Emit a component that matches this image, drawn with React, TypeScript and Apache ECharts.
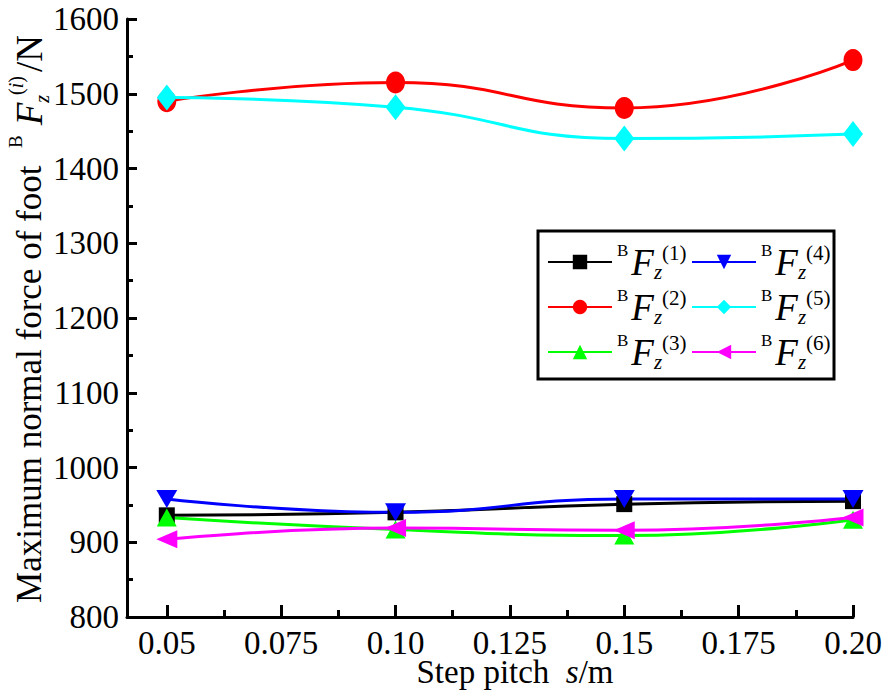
import React, { useEffect, useRef } from 'react';
import * as echarts from 'echarts';

const xValues = [0.05, 0.1, 0.15, 0.2];
const f1 = [936, 940, 951, 955];
const f2 = [1490, 1515, 1481, 1545];
const f3 = [933, 917, 909, 930];
const f4 = [958, 940, 958, 958];
const f5 = [1495, 1482, 1440, 1446];
const f6 = [904, 919, 916, 933];

const seriesNames = ['F1', 'F2', 'F3', 'F4', 'F5', 'F6'];
const seriesIndexLabels = ['1', '2', '3', '4', '5', '6'];
const seriesValues = [f1, f2, f3, f4, f5, f6];
const seriesColors = ['#000000', '#ff0000', '#00ff00', '#0000ff', '#00ffff', '#ff00ff'];
const seriesSymbols = ['rect', 'circle', 'triangle', 'triangle', 'diamond', 'triangle'];
const seriesRotate = [0, 0, 0, 180, 0, 90];
const seriesSymbolSize: any[] = [[16, 16], [19, 22], [20, 18], [21, 18], [20, 26], [18, 21]];

const xTickValues = [0.05, 0.075, 0.1, 0.125, 0.15, 0.175, 0.2];
const xTickLabels = ['0.05', '0.075', '0.10', '0.125', '0.15', '0.175', '0.20'];
const xMinorTicks = [0.0625, 0.0875, 0.1125, 0.1375, 0.1625, 0.1875];
const yMin = 800;
const yMax = 1600;
const yInterval = 100;

const FONT = "'Liberation Serif', 'Times New Roman', Times, serif";

export default function App() {
  const ref = useRef<HTMLDivElement>(null);
  useEffect(() => {
    if (!ref.current) return;
    const chart = echarts.init(ref.current, undefined, { renderer: 'svg' });

    const legendRich = {
      b: { fontSize: 17, fontFamily: FONT, verticalAlign: 'top', lineHeight: 22, color: '#000', padding: [0, 3, 0, 0] },
      F: { fontSize: 37, fontFamily: FONT, fontStyle: 'italic', lineHeight: 40, color: '#000' },
      z: { fontSize: 21, fontFamily: FONT, fontStyle: 'italic', verticalAlign: 'bottom', lineHeight: 18, color: '#000' },
      s: { fontSize: 21, fontFamily: FONT, verticalAlign: 'top', lineHeight: 20, color: '#000' },
    };
    const legendFormatter = (name: string) => {
      const i = seriesNames.indexOf(name);
      return `{b|B}{F|F}{z|z}{s|(${seriesIndexLabels[i]})}`;
    };

    const yTitleRich = {
      m: { fontSize: 35, fontFamily: FONT, lineHeight: 46, color: '#000' },
      b: { fontSize: 19, fontFamily: FONT, verticalAlign: 'top', lineHeight: 26, color: '#000', padding: [0, 10, 0, 0] },
      F: { fontSize: 37, fontFamily: FONT, fontStyle: 'italic', lineHeight: 46, color: '#000' },
      z: { fontSize: 20, fontFamily: FONT, fontStyle: 'italic', verticalAlign: 'bottom', lineHeight: 20, color: '#000' },
      s: { fontSize: 20, fontFamily: FONT, verticalAlign: 'top', lineHeight: 20, color: '#000' },
      si: { fontSize: 20, fontFamily: FONT, fontStyle: 'italic', verticalAlign: 'top', lineHeight: 20, color: '#000' },
      n: { fontSize: 37, fontFamily: FONT, lineHeight: 46, color: '#000', padding: [0, 0, 0, 4] },
    };

    const option: any = {
      animation: false,
      backgroundColor: '#ffffff',
      textStyle: { fontFamily: FONT, color: '#000' },
      grid: { left: 127, right: 33, top: 19, bottom: 78, containLabel: false },
      xAxis: [
        {
          type: 'value',
          min: 0.0413,
          max: 0.2,
          position: 'bottom',
          axisLine: { show: true, lineStyle: { color: '#000', width: 3 } },
          axisTick: { show: true, inside: true, length: 12, customValues: xTickValues, lineStyle: { color: '#000', width: 3 } },
          axisLabel: {
            show: true,
            customValues: xTickValues,
            margin: 9,
            fontSize: 33,
            fontFamily: FONT,
            color: '#000',
            formatter: (v: number) => {
              let best = 0;
              xTickValues.forEach((t, i) => { if (Math.abs(t - v) < Math.abs(xTickValues[best] - v)) best = i; });
              return xTickLabels[best];
            },
          },
          splitLine: { show: false },
        },
        {
          type: 'value',
          min: 0.0413,
          max: 0.2,
          position: 'bottom',
          axisLine: { show: false },
          axisTick: { show: true, inside: true, length: 7, customValues: xMinorTicks, lineStyle: { color: '#000', width: 3 } },
          axisLabel: { show: false },
          splitLine: { show: false },
        },
      ],
      yAxis: {
        type: 'value',
        min: yMin,
        max: yMax,
        interval: yInterval,
        axisLine: { show: true, lineStyle: { color: '#000', width: 3 } },
        axisTick: { show: true, inside: true, length: 10, lineStyle: { color: '#000', width: 3 } },
        minorTick: { show: true, splitNumber: 2, length: 6, lineStyle: { color: '#000', width: 3 } },
        axisLabel: { margin: 8, fontSize: 33, fontFamily: FONT, color: '#000', formatter: (v: number) => String(v) },
        splitLine: { show: false },
        minorSplitLine: { show: false },
      },
      legend: [
        {
          data: seriesNames.slice(0, 3),
          orient: 'vertical',
          left: 547,
          top: 242,
          padding: 0,
          itemGap: 5,
          itemWidth: 64,
          itemHeight: 18,
          formatter: legendFormatter,
          textStyle: { rich: legendRich, fontFamily: FONT, color: '#000' },
        },
        {
          data: seriesNames.slice(3, 6),
          orient: 'vertical',
          left: 691,
          top: 242,
          padding: 0,
          itemGap: 5,
          itemWidth: 64,
          itemHeight: 18,
          formatter: legendFormatter,
          textStyle: { rich: legendRich, fontFamily: FONT, color: '#000' },
        },
      ],
      graphic: [
        {
          type: 'rect',
          shape: { x: 538, y: 231, width: 296, height: 148 },
          style: { fill: 'none', stroke: '#000', lineWidth: 3 },
          z: 100,
        },
        {
          type: 'text',
          x: 29,
          y: 319,
          rotation: Math.PI / 2,
          style: {
            text: '{m|Maximum normal force of foot  }{b|B}{F|F}{z|z}{s|(}{si|i}{s|)}{n|/N}',
            rich: yTitleRich,
            align: 'center',
            verticalAlign: 'middle',
            fill: '#000',
            fontFamily: FONT,
          },
        },
        {
          type: 'text',
          x: 515,
          y: 672,
          style: {
            text: '{m|Step pitch  }{i|s}{m|/m}',
            rich: {
              m: { fontSize: 33, fontFamily: FONT, color: '#000' },
              i: { fontSize: 33, fontFamily: FONT, fontStyle: 'italic', color: '#000' },
            },
            align: 'center',
            verticalAlign: 'middle',
            fill: '#000',
            fontFamily: FONT,
          },
        },
      ],
      series: seriesNames.map((name, i) => ({
        name,
        type: 'line',
        xAxisIndex: 0,
        smooth: 0.5,
        data: xValues.map((x, j) => [x, seriesValues[i][j]]),
        symbol: seriesSymbols[i],
        symbolRotate: seriesRotate[i],
        symbolSize: seriesSymbolSize[i],
        showAllSymbol: true,
        color: seriesColors[i],
        lineStyle: { color: seriesColors[i], width: 3 },
        itemStyle: { color: seriesColors[i], borderWidth: 0 },
        clip: false,
      })),
    };

    chart.setOption(option);
    return () => chart.dispose();
  }, []);

  return <div ref={ref} style={{ position: 'fixed', left: 0, top: 0, width: 886, height: 695, background: '#fff' }} />;
}
